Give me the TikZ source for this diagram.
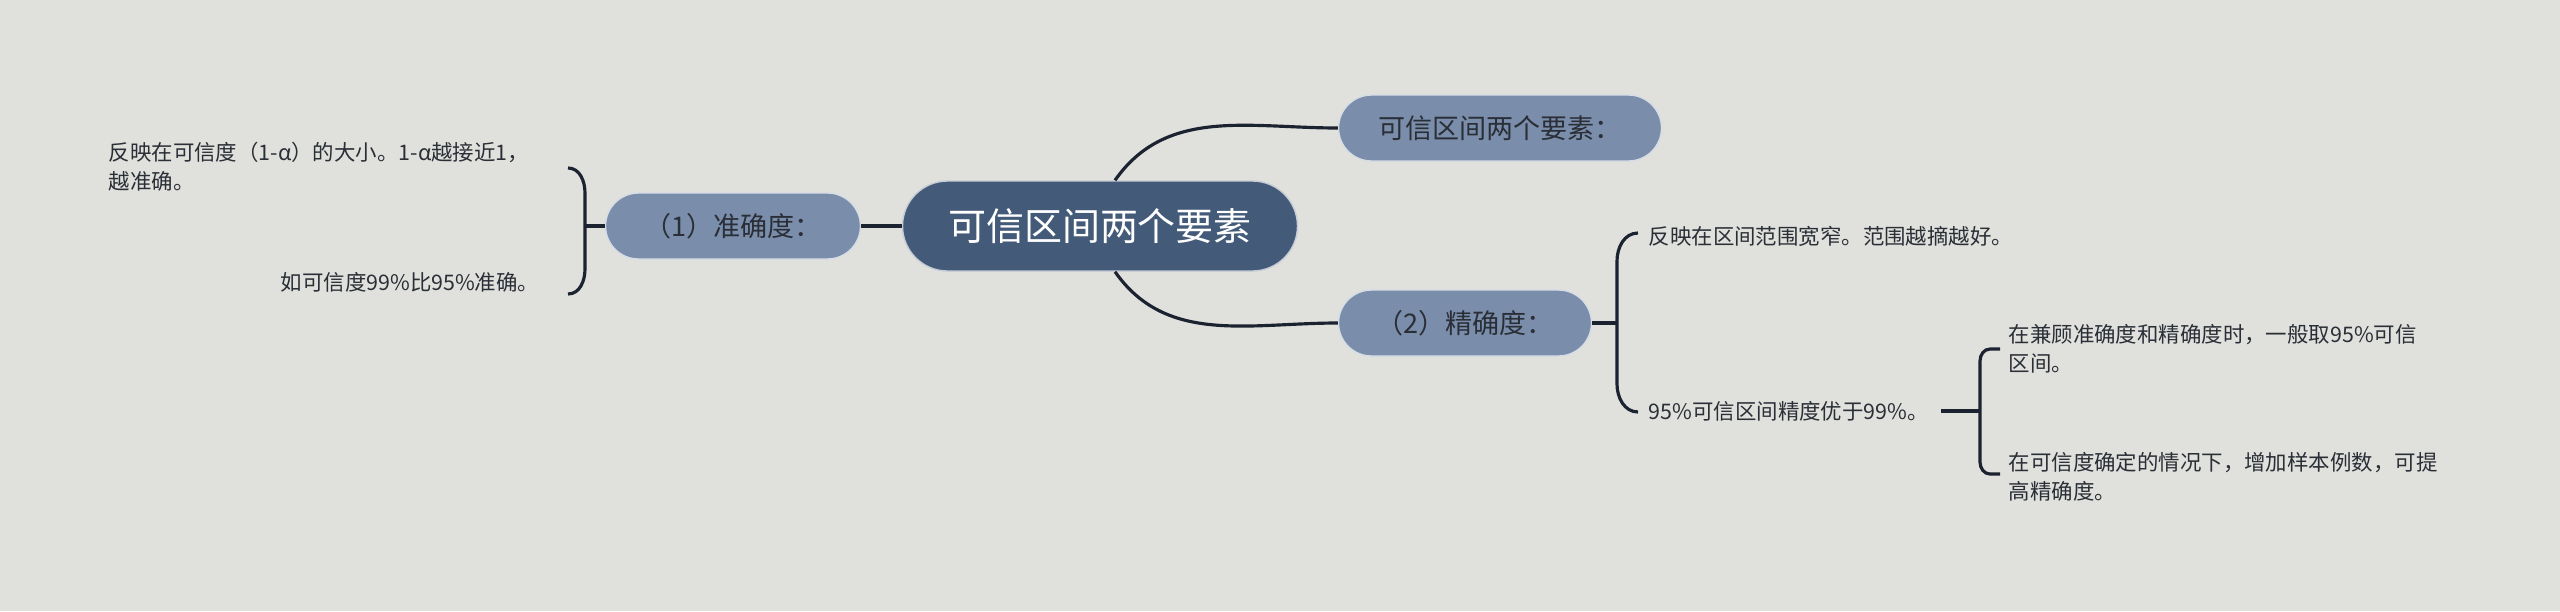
\documentclass[tikz,border=0pt]{standalone}
\usepackage{fontspec}
\setmainfont{Noto Sans CJK SC}
\usetikzlibrary{positioning,calc}
\definecolor{bgcol}{HTML}{E0E1DC}
\definecolor{rootcol}{HTML}{435A78}
\definecolor{subcol}{HTML}{7A8DAB}
\definecolor{linecol}{HTML}{1B2230}
\definecolor{txtcol}{HTML}{2A2E36}

\begin{document}
\begin{tikzpicture}[
    rootnode/.style={fill=rootcol,draw=white!70!rootcol,thin,rounded corners=0.45cm,minimum width=3.95cm,minimum height=0.9cm,text=white,font=\fontsize{10.8}{13}\selectfont,inner sep=0pt},
    subnode/.style={fill=subcol,draw=white!70!subcol,thin,rounded corners=0.33cm,minimum height=0.66cm,text=txtcol,font=\fontsize{7.7}{9}\selectfont,inner sep=0pt},
    leaf/.style={text=txtcol,font=\fontsize{6.1}{8.2}\selectfont,inner sep=0pt,align=left},
    link/.style={draw=linecol,line width=0.9pt}
]
    \fill[bgcol] (0,0) rectangle (25.6,6.11);
    \useasboundingbox (0,0) rectangle (25.6,6.11);

    % main nodes
    \node[rootnode] (root) at (11.00,3.85) {可信区间两个要素};
    \node[subnode,minimum width=3.23cm] (elem) at (15.00,4.83) {可信区间两个要素：};
    \node[subnode,minimum width=2.55cm] (acc) at (7.33,3.85) {（1）准确度：};
    \node[subnode,minimum width=2.53cm] (prec) at (14.65,2.88) {（2）精确度：};

    % leaves
    \node[leaf,anchor=west] (accA) at (1.08,4.44) {反映在可信度（1-α）的大小。1-α越接近1，\\越准确。};
    \node[leaf,anchor=east] (accB) at (5.40,3.29) {如可信度99\%比95\%准确。};
    \node[leaf,anchor=west] (precA) at (16.48,3.75) {反映在区间范围宽窄。范围越摘越好。};
    \node[leaf,anchor=west] (precB) at (16.48,2.00) {95\%可信区间精度优于99\%。};
    \node[leaf,anchor=west] (tipA) at (20.08,2.62) {在兼顾准确度和精确度时，一般取95\%可信\\区间。};
    \node[leaf,anchor=west] (tipB) at (20.08,1.34) {在可信度确定的情况下，增加样本例数，可提\\高精确度。};

    % curved links
    \draw[link] ([xshift=0.15cm]root.north) to[out=55,in=180] (elem.west);
    \draw[link] ([xshift=0.15cm]root.south) to[out=-55,in=180] (prec.west);
    \draw[link] (acc.east) -- (root.west);

    % brackets
    \coordinate (accTop) at (5.68,4.43);
    \coordinate (accBot) at (5.68,3.17);
    \draw[link] (acc.west) -- (acc.west -| 5.85,0);
    \draw[link] (accTop) to[out=0,in=90] (5.85,4.18) -- (5.85,3.42) to[out=-90,in=0] (accBot);

    \coordinate (precTop) at (16.38,3.78);
    \coordinate (precBot) at (16.38,1.99);
    \draw[link] (prec.east) -- (prec.east -| 16.17,0);
    \draw[link] (precTop) to[out=180,in=90] (16.17,3.50) -- (16.17,2.27) to[out=-90,in=180] (precBot);

    \coordinate (tipTop) at (20.00,2.62);
    \coordinate (tipBot) at (20.00,1.37);
    \draw[link] ([xshift=0.12cm]precB.east) -- ($(precB.east -| 19.80,0)$);
    \draw[link] (tipTop) -- (19.90,2.62) to[out=180,in=90] (19.80,2.50) -- (19.80,1.49) to[out=-90,in=180] (19.90,1.37) -- (tipBot);
\end{tikzpicture}
\end{document}
